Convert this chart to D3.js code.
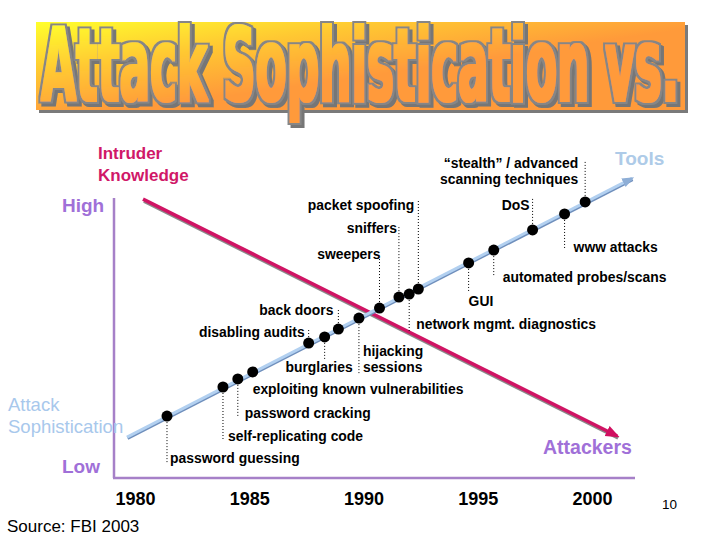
<!DOCTYPE html>
<html><head><meta charset="utf-8">
<script src="https://cdn.jsdelivr.net/npm/d3@7"></script>
<style>body{margin:0;background:#fff}svg{display:block}</style>
</head><body><svg id="c" width="720" height="540"></svg>
<script>
// ---------- data ----------
const titleText = "Attack Sophistication vs.";
const yearTicks = [1980, 1985, 1990, 1995, 2000];
const eventNames = [
  ["password guessing"], ["self-replicating code"], ["password cracking"],
  ["exploiting known vulnerabilities"], ["disabling audits"], ["burglaries"],
  ["back doors"], ["hijacking", "sessions"], ["sweepers"], ["sniffers"],
  ["network mgmt. diagnostics"], ["packet spoofing"], ["GUI"],
  ["automated probes/scans"], ["DoS"], ["www attacks"],
  ["\u201cstealth\u201d / advanced", "scanning techniques"]
];
const eventYears  = [1981.4, 1983.85, 1984.5, 1985.15, 1987.6, 1988.3, 1988.9, 1989.8, 1990.7, 1991.55, 1992.0, 1992.4, 1994.6, 1995.7, 1997.4, 1998.8, 1999.7];
const eventLevels = [22.1, 32.5, 35.4, 37.9, 48.2, 50.4, 53.2, 57.1, 60.7, 64.6, 65.7, 67.5, 76.8, 81.4, 88.6, 94.3, 98.6];
const toolsYears = [1979.65, 2001.75];
const toolsLevels = [14.6, 107];
const knowledgeYears = [1980.35, 2001.1];
const knowledgeLevels = [99.6, 15];

// ---------- label layout (leader length, text dx, text dy, anchor) ----------
const labelLayout = [
  [46, 3, 47, "start"], [52, 5, 54, "start"], [39, 7, 39, "start"],
  [0, 0, 22, "start"], [-15, -4, -6, "end"], [23, 28, 35, "end"],
  [-21, -5, -14, "end"], [55, 4, 38, "start"], [-50, 1, -49, "end"],
  [-72, -2, -64, "end"], [38, 7, 35, "start"], [-89, -4, -79, "end"],
  [29, 0, 43, "start"], [27, 9, 32, "start"], [-32, -3, -20, "end"],
  [36, 9, 38, "start"], [-42, -7, -34, "end"]
];

const svg = d3.select("#c");
const defs = svg.append("defs");
const x = d3.scaleLinear().domain([1980, 2000]).range([135, 592]);
const y = d3.scaleLinear().domain([0, 100]).range([478, 198]);
const font = "Liberation Sans, Arial, Helvetica, sans-serif";

// ---------- title ----------
function addGrad(id, transform) {
  const g = defs.append("linearGradient").attr("id", id)
    .attr("gradientUnits", "userSpaceOnUse")
    .attr("x1", 36).attr("y1", 22).attr("x2", 50).attr("y2", 120);
  if (transform) g.attr("gradientTransform", transform);
  g.append("stop").attr("offset", 0).attr("stop-color", "#ffff2c");
  g.append("stop").attr("offset", 0.5).attr("stop-color", "#ffc832");
  g.append("stop").attr("offset", 1).attr("stop-color", "#ff9a3a");
}
addGrad("tg");

svg.append("rect").attr("x", 39).attr("y", 25).attr("width", 649).attr("height", 88).attr("fill", "#7a7a7a");
svg.append("rect").attr("x", 36).attr("y", 22).attr("width", 649).attr("height", 88).attr("fill", "url(#tg)");

const fx = defs.append("filter").attr("id", "tfx")
  .attr("x", -0.05).attr("y", -0.2).attr("width", 1.1).attr("height", 1.4);
fx.append("feMorphology").attr("in", "SourceGraphic").attr("operator", "dilate").attr("radius", 1).attr("result", "fat");
fx.append("feMorphology").attr("in", "SourceAlpha").attr("operator", "dilate").attr("radius", 3.2).attr("result", "outA");
fx.append("feFlood").attr("flood-color", "#868686").attr("result", "grey");
fx.append("feComposite").attr("in", "grey").attr("in2", "outA").attr("operator", "in").attr("result", "outline");
fx.append("feOffset").attr("in", "outA").attr("dx", 3).attr("dy", 3).attr("result", "shA");
fx.append("feFlood").attr("flood-color", "#767676").attr("result", "dgrey");
fx.append("feComposite").attr("in", "dgrey").attr("in2", "shA").attr("operator", "in").attr("result", "shadow");
const mg = fx.append("feMerge");
mg.append("feMergeNode").attr("in", "shadow");
mg.append("feMergeNode").attr("in", "outline");
mg.append("feMergeNode").attr("in", "fat");

const titleFont = "Liberation Sans Narrow, DejaVu Sans Condensed, Arial Narrow, sans-serif";
const tG = svg.append("g").attr("filter", "url(#tfx)");
const tT = tG.append("text").text(titleText)
  .attr("font-family", titleFont).attr("font-weight", "bold").attr("font-size", 101)
  .attr("x", 0).attr("y", 0);
const natural = tT.node().getComputedTextLength();
const tx0 = 41, ty0 = 101, targetW = 638;
const sx = targetW / natural;
tT.attr("transform", `translate(${tx0},${ty0}) scale(${sx},1)`);
addGrad("tgt", `scale(${1 / sx},1) translate(${-tx0},${-ty0})`);
tT.attr("fill", "url(#tgt)");

// ---------- axes ----------
const axisColor = "#a680c8";
svg.append("line").attr("x1", 114).attr("x2", 114).attr("y1", y(100)).attr("y2", y(0))
  .attr("stroke", axisColor).attr("stroke-width", 2.5);
svg.append("line").attr("x1", 113).attr("x2", 635).attr("y1", y(0)).attr("y2", y(0))
  .attr("stroke", axisColor).attr("stroke-width", 2.5);

const xAxis = svg.append("g").attr("transform", `translate(0,${y(0)})`)
  .call(d3.axisBottom(x).tickValues(yearTicks).tickFormat(d3.format("d")).tickSize(0).tickPadding(0));
xAxis.select(".domain").remove();
xAxis.selectAll("text").attr("dy", 0).attr("y", 27)
  .attr("font-family", font).attr("font-weight", "bold").attr("font-size", 18).attr("fill", "#000");

// ---------- side labels ----------
function txt(xp, yp, s, size, color, weight, anchor) {
  return svg.append("text").attr("x", xp).attr("y", yp).text(s)
    .attr("font-family", font).attr("font-size", size).attr("fill", color)
    .attr("font-weight", weight || "normal").attr("text-anchor", anchor || "start");
}
txt(98, 159, "Intruder", 17, "#d01868", "bold");
txt(98, 181, "Knowledge", 17, "#d01868", "bold");
txt(62, 212, "High", 19, "#a070d8", "bold");
txt(62, 473, "Low", 19, "#a070d8", "bold");
txt(8, 411, "Attack", 18.5, "#a8c8ec");
txt(8, 433, "Sophistication", 18.5, "#a8c8ec");
txt(615, 165, "Tools", 19, "#aecbe8", "bold");
txt(543, 454, "Attackers", 19.5, "#a070d8", "bold");
txt(7, 532, "Source: FBI 2003", 17, "#000");
txt(662, 509, "10", 13.5, "#000");

// ---------- arrow markers ----------
function marker(id, color) {
  defs.append("marker").attr("id", id).attr("viewBox", "0 0 10 10")
    .attr("refX", 8).attr("refY", 5).attr("markerWidth", 4).attr("markerHeight", 4)
    .attr("markerUnits", "strokeWidth").attr("orient", "auto")
    .append("path").attr("d", "M0,1 L10,5 L0,9 z").attr("fill", color);
}
marker("ab", "#8eaed6");
marker("ar", "#d01060");

const lineGen = d3.line().x(d => x(d[0])).y(d => y(d[1]));
const tools = toolsYears.map((v, i) => [v, toolsLevels[i]]);
const knowledge = knowledgeYears.map((v, i) => [v, knowledgeLevels[i]]);

// knowledge (attackers) line with grey shadow
svg.append("path").datum(knowledge).attr("d", lineGen)
  .attr("transform", "translate(1,2)")
  .attr("stroke", "#8a8a8a").attr("stroke-width", 3.5).attr("fill", "none");
svg.append("path").datum(knowledge).attr("d", lineGen)
  .attr("stroke", "#d01464").attr("stroke-width", 3.5).attr("fill", "none")
  .attr("marker-end", "url(#ar)");

// tools line
svg.append("path").datum(tools).attr("d", lineGen)
  .attr("transform", "translate(0.5,1)")
  .attr("stroke", "#6f8fbc").attr("stroke-width", 3.5).attr("fill", "none");
svg.append("path").datum(tools).attr("d", lineGen)
  .attr("stroke", "#b2d0f0").attr("stroke-width", 3).attr("fill", "none")
  .attr("marker-end", "url(#ab)");

// ---------- events ----------
const ev = eventYears.map((yr, i) => ({ yr, lv: eventLevels[i], name: eventNames[i], lay: labelLayout[i] }));

svg.append("g").selectAll("line").data(ev.filter(d => d.lay[0] !== 0)).join("line")
  .attr("x1", d => x(d.yr)).attr("x2", d => x(d.yr))
  .attr("y1", d => y(d.lv)).attr("y2", d => y(d.lv) + d.lay[0])
  .attr("stroke", "#000").attr("stroke-width", 1).attr("stroke-dasharray", "1,2");

svg.append("g").selectAll("circle").data(ev).join("circle")
  .attr("cx", d => x(d.yr)).attr("cy", d => y(d.lv)).attr("r", 5.5).attr("fill", "#000");

const lbl = svg.append("g").selectAll("text").data(ev).join("text")
  .attr("font-family", font).attr("font-weight", "bold").attr("font-size", 13.9)
  .attr("fill", "#000")
  .attr("text-anchor", d => d.lay[3])
  .attr("x", d => x(d.yr) + d.lay[1])
  .attr("y", d => y(d.lv) + d.lay[2]);
lbl.selectAll("tspan").data(d => d.name.map((s, k) => ({ s, k, d }))).join("tspan")
  .attr("x", o => x(o.d.yr) + o.d.lay[1])
  .attr("dy", o => o.k === 0 ? 0 : 16)
  .text(o => o.s);
</script>
</body></html>
